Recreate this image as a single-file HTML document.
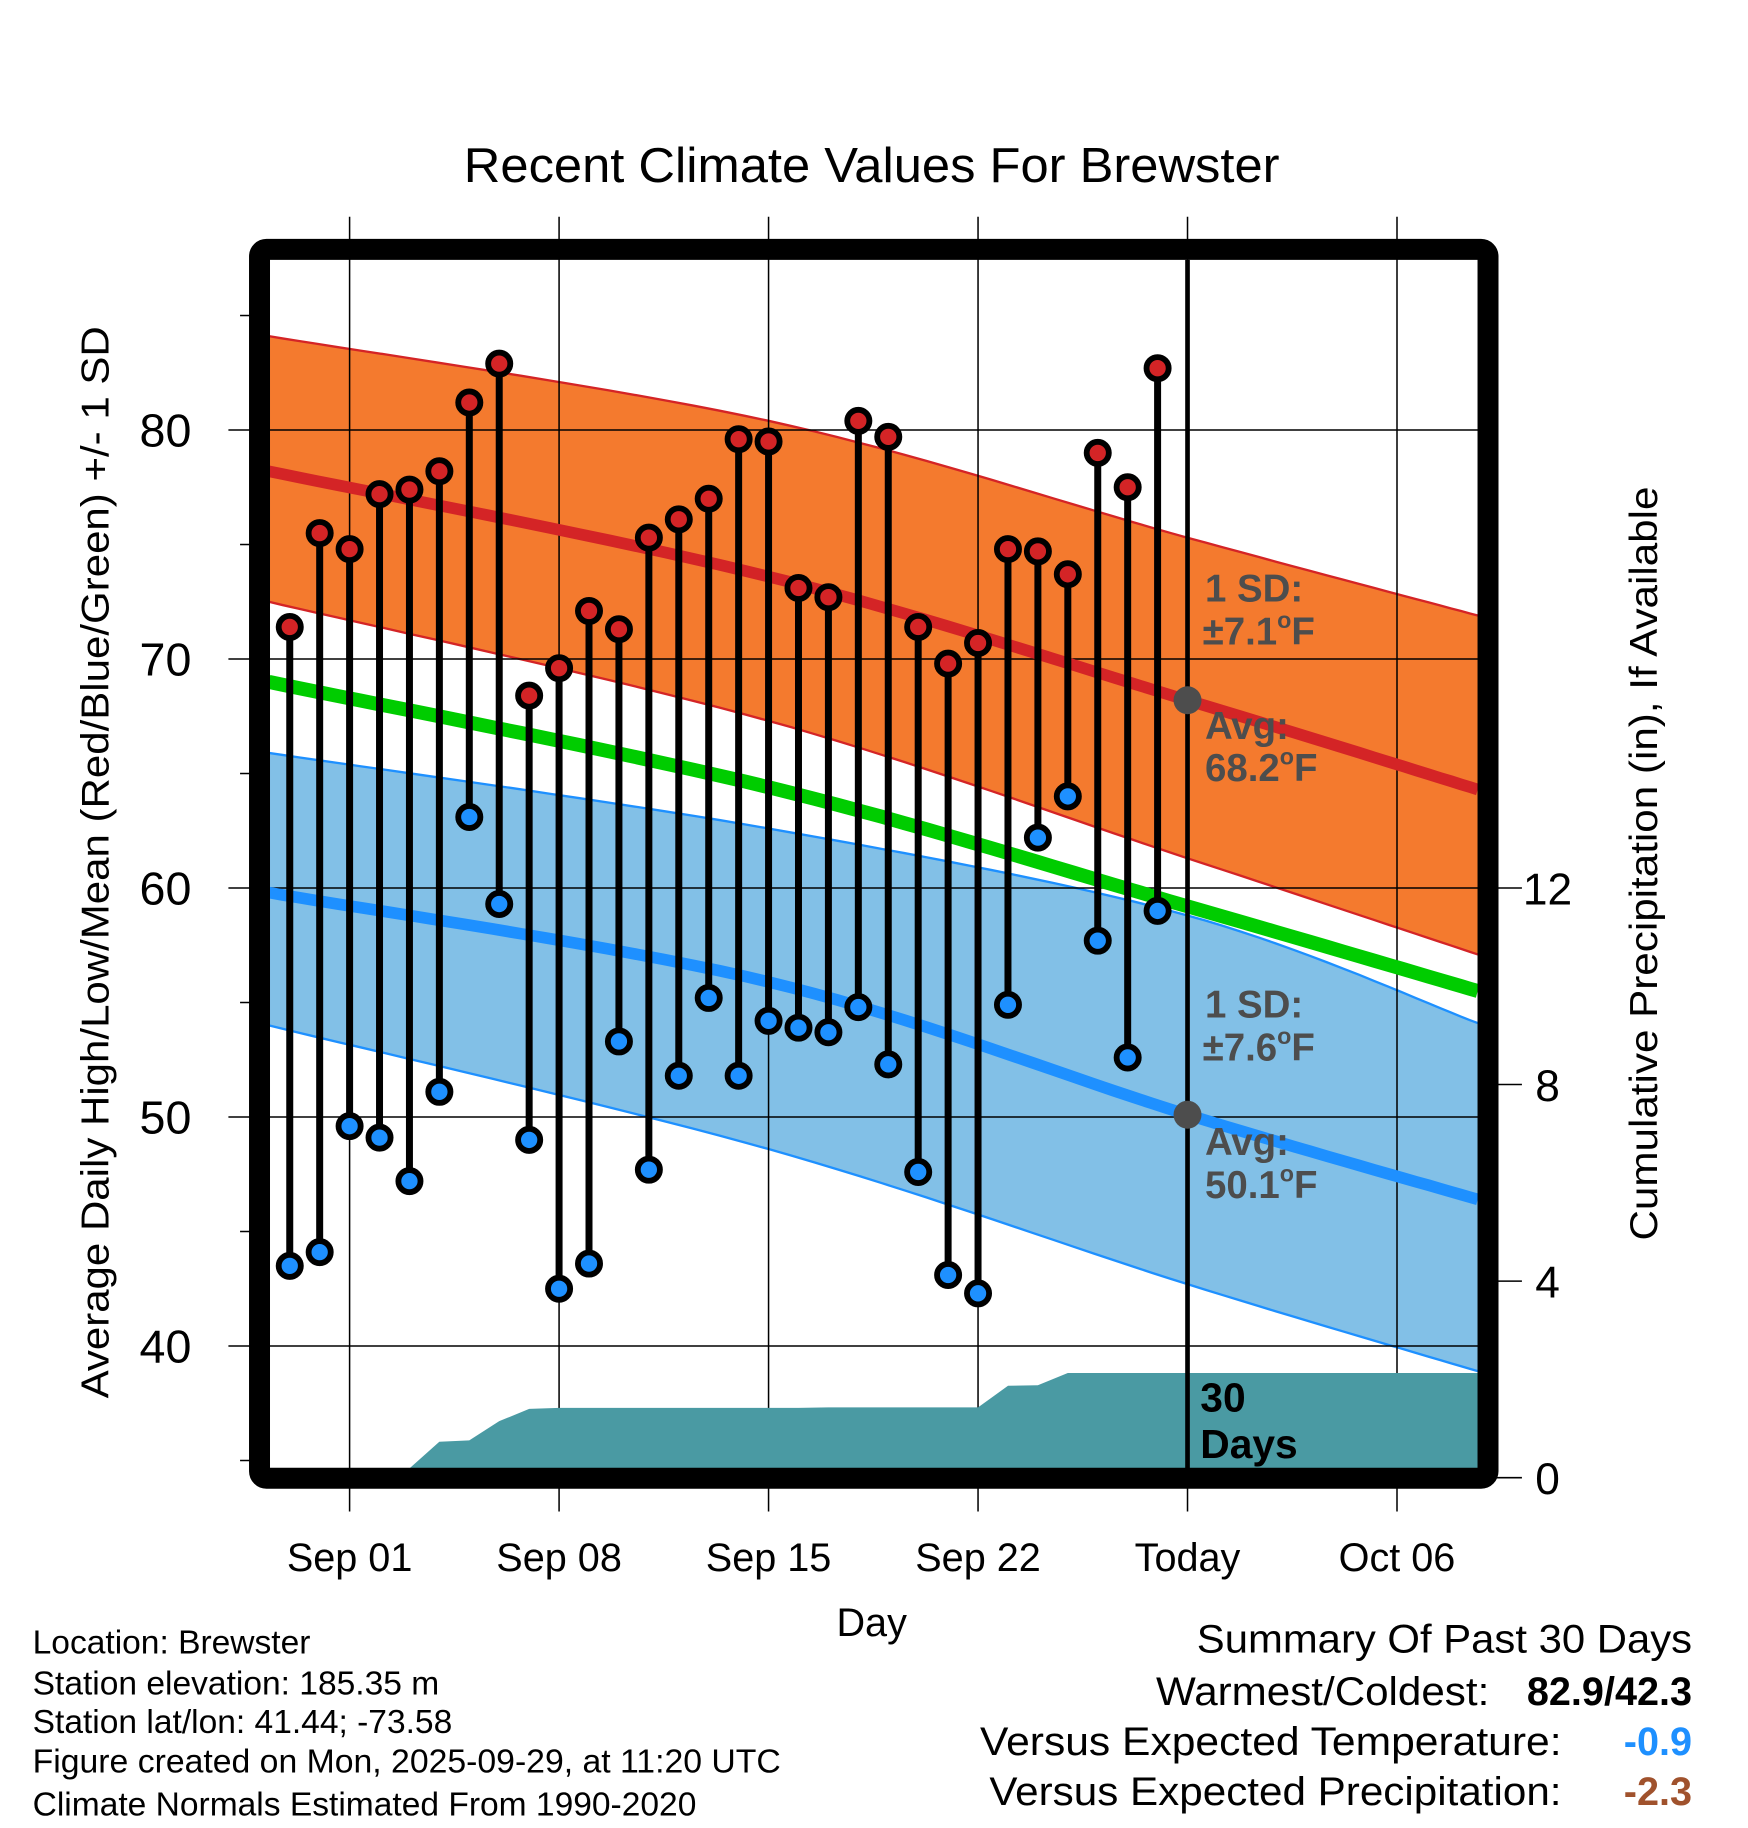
<!DOCTYPE html>
<html><head><meta charset="utf-8"><style>
html,body{margin:0;padding:0;background:#fff;}
svg{display:block;}
text{font-family:"Liberation Sans",sans-serif;}
</style></head><body>
<svg id="chart" width="1748" height="1828" viewBox="0 0 1500 1568.6" preserveAspectRatio="none" xmlns="http://www.w3.org/2000/svg">
<g id="bands"></g>
<g id="grid"></g>
<g id="precip"></g>
<g id="series"></g>
<g id="frame"></g>
<g id="labels">
<text x="748" y="156" font-size="42" text-anchor="middle" textLength="700" lengthAdjust="spacingAndGlyphs">Recent Climate Values For Brewster</text>
<text transform="translate(93,740) rotate(-90)" font-size="33" text-anchor="middle" textLength="920" lengthAdjust="spacingAndGlyphs">Average Daily High/Low/Mean (Red/Blue/Green) +/- 1 SD</text>
<text transform="translate(1422,741) rotate(-90)" font-size="33" text-anchor="middle" textLength="647" lengthAdjust="spacingAndGlyphs">Cumulative Precipitation (in), If Available</text>
<text x="748" y="1404" font-size="34" text-anchor="middle">Day</text>
<g fill="#4d4d4d" font-weight="bold" font-size="33">
<text x="1034" y="516">1 SD:</text>
<text x="1032" y="553">±7.1<tspan font-size="20" dy="-14">o</tspan><tspan dy="14">F</tspan></text>
<text x="1034" y="634">Avg:</text>
<text x="1034" y="670">68.2<tspan font-size="20" dy="-14">o</tspan><tspan dy="14">F</tspan></text>
</g>
<g fill="#4d4d4d" font-weight="bold" font-size="33">
<text x="1034" y="873">1 SD:</text>
<text x="1032" y="910">±7.6<tspan font-size="20" dy="-14">o</tspan><tspan dy="14">F</tspan></text>
<text x="1034" y="991">Avg:</text>
<text x="1034" y="1028">50.1<tspan font-size="20" dy="-14">o</tspan><tspan dy="14">F</tspan></text>
</g>
<text x="1030" y="1211" font-size="35" font-weight="bold">30</text>
<text x="1030" y="1251" font-size="35" font-weight="bold">Days</text>
<g font-size="28.8">
<text x="28" y="1419">Location: Brewster</text>
<text x="28" y="1454">Station elevation: 185.35 m</text>
<text x="28" y="1487">Station lat/lon: 41.44; -73.58</text>
<text x="28" y="1521" textLength="642" lengthAdjust="spacingAndGlyphs">Figure created on Mon, 2025-09-29, at 11:20 UTC</text>
<text x="28" y="1558">Climate Normals Estimated From 1990-2020</text>
</g>
<g font-size="34">
<text x="1452" y="1418" text-anchor="end" textLength="425" lengthAdjust="spacingAndGlyphs">Summary Of Past 30 Days</text>
<text x="1278" y="1463" text-anchor="end" textLength="286" lengthAdjust="spacingAndGlyphs">Warmest/Coldest:</text>
<text x="1452" y="1463" text-anchor="end" font-weight="bold">82.9/42.3</text>
<text x="1340" y="1506" text-anchor="end" textLength="499" lengthAdjust="spacingAndGlyphs">Versus Expected Temperature:</text>
<text x="1452" y="1506" text-anchor="end" font-weight="bold" fill="#1e90ff">-0.9</text>
<text x="1340" y="1549" text-anchor="end" textLength="491" lengthAdjust="spacingAndGlyphs">Versus Expected Precipitation:</text>
<text x="1452" y="1549" text-anchor="end" font-weight="bold" fill="#a0522d">-2.3</text>
</g>
</g>
</svg>
<script>
// ---- data ----
const dayIdx = [-2,-1,0,1,2,3,4,5,6,7,8,9,10,11,12,13,14,15,16,17,18,19,20,21,22,23,24,25,26,27];
const highs = [71.4,75.5,74.8,77.2,77.4,78.2,81.2,82.9,68.4,69.6,72.1,71.3,75.3,76.1,77.0,79.6,79.5,73.1,72.7,80.4,79.7,71.4,69.8,70.7,74.8,74.7,73.7,79.0,77.5,82.7];
const lows = [43.5,44.1,49.6,49.1,47.2,51.1,63.1,59.3,49.0,42.5,43.6,53.3,47.7,51.8,55.2,51.8,54.2,53.9,53.7,54.8,52.3,47.6,43.1,42.3,54.9,62.2,64.0,57.7,52.6,59.0];
const precip = [0,0,0,0,0,0.73,0.76,1.15,1.40,1.42,1.42,1.42,1.42,1.42,1.42,1.42,1.42,1.42,1.43,1.43,1.43,1.43,1.43,1.43,1.87,1.88,2.13,2.13,2.13,2.13];
const normDays = [-2.7,14,28,37.7];
const normHighUpper = [84.1,80.4,75.3,71.9];
const normHigh = [78.2,73.6,68.2,64.3];
const normHighLower = [72.5,67.3,61.3,57.1];
const normMean = [69.0,64.4,59.2,55.5];
const normLowUpper = [65.9,62.6,58.8,54.1];
const normLow = [59.8,55.9,50.1,46.4];
const normLowLower = [54.0,48.6,42.7,38.9];
const xTickDays = [0,7,14,21,28,35];
const xTickLabels = ["Sep 01","Sep 08","Sep 15","Sep 22","Today","Oct 06"];
const yTicks = [40,50,60,70,80];
const yMinorTicks = [35,45,55,65,75,85];
const y2Ticks = [0,4,8,12];

// ---- axes ----
const X0=231.7, X1=1268.4, Y0=223, Y1=1260;
function xs(d){return 300 + d*25.68;}
function ys(t){return 369 + (80-t)*19.65;}
function yp(p){return 1268 - p*42.17;}
const NS="http://www.w3.org/2000/svg";
function mk(tag,parent,attrs){const e=document.createElementNS(NS,tag);for(const k in attrs)e.setAttribute(k,attrs[k]);document.getElementById(parent).appendChild(e);return e;}
function pts(days,vals,f){return days.map((d,i)=>xs(d).toFixed(1)+","+f(vals[i]).toFixed(1));}
// smooth curve (Catmull-Rom) sampled points through the normal values
function smooth(days,vals){
  const P=days.map((d,i)=>[xs(d),ys(vals[i])]);
  const out=[];
  for(let i=0;i<P.length-1;i++){
    const p0=P[Math.max(0,i-1)],p1=P[i],p2=P[i+1],p3=P[Math.min(P.length-1,i+2)];
    for(let s=0;s<20;s++){
      const t=s/20,t2=t*t,t3=t2*t;
      const f=(a,b,c,d)=>0.5*((2*b)+(-a+c)*t+(2*a-5*b+4*c-d)*t2+(-a+3*b-3*c+d)*t3);
      out.push(f(p0[0],p1[0],p2[0],p3[0]).toFixed(1)+','+f(p0[1],p1[1],p2[1],p3[1]).toFixed(1));
    }
  }
  const L=P[P.length-1];out.push(L[0].toFixed(1)+','+L[1].toFixed(1));
  return out;
}

// bands
let e;
e=mk('polygon','bands',{points:smooth(normDays,normHighUpper).concat(smooth(normDays,normHighLower).reverse()).join(' '),fill:'#f47a2e'});


e=mk('polygon','bands',{points:smooth(normDays,normLowUpper).concat(smooth(normDays,normLowLower).reverse()).join(' '),fill:'#82c0e7'});


[[normHighUpper,'#d42426',2,'high-upper-line'],[normHighLower,'#d42426',2,'high-lower-line'],[normLowUpper,'#1e90ff',2,'low-upper-line'],[normLowLower,'#1e90ff',2,'low-lower-line']].forEach(a=>{
  const l=mk('polyline','bands',{points:smooth(normDays,a[0]).join(' '),fill:'none',stroke:a[1],'stroke-width':a[2]});
  
  
});

// grid
xTickDays.forEach((d,i)=>{
  const g=mk('line','grid',{x1:xs(d),x2:xs(d),y1:186,y2:1297,stroke:'#000','stroke-width':1.3});
  
  
  const t=mk('text','grid',{x:xs(d),y:1348,'font-size':34,'text-anchor':'middle'});
  t.textContent=xTickLabels[i];
  
  
});
yTicks.forEach(v=>{
  const g=mk('line','grid',{x1:196,x2:X1,y1:ys(v),y2:ys(v),stroke:'#000','stroke-width':1.3});
  
  
  const t=mk('text','grid',{x:142,y:ys(v)+14,'font-size':40,'text-anchor':'middle'});
  t.textContent=v;
  
  
});
yMinorTicks.forEach(v=>{
  const g=mk('line','grid',{x1:206,x2:216,y1:ys(v),y2:ys(v),stroke:'#000','stroke-width':1.3});
  
  
});
y2Ticks.forEach(v=>{
  const g=mk('line','grid',{x1:1280,x2:1306,y1:yp(v),y2:yp(v),stroke:'#000','stroke-width':1.3});
  
  
  const t=mk('text','grid',{x:1328,y:yp(v)+14,'font-size':38,'text-anchor':'middle'});
  t.textContent=v;
  
  
});

// precipitation area
let pp=[xs(dayIdx[0])+','+Y1];
dayIdx.forEach((d,i)=>{pp.push(xs(d).toFixed(1)+','+Math.min(Y1,yp(precip[i])).toFixed(1));});
pp.push(X1+','+Math.min(Y1,yp(precip[precip.length-1])).toFixed(1));
pp.push(X1+','+Y1);
e=mk('polygon','precip',{points:pp.join(' '),fill:'#4a9aa3'});



// normal lines
[[normHigh,'#d42426',10,'avg-high-line'],[normMean,'#00cc00',12,'avg-mean-line'],[normLow,'#1e90ff',10,'avg-low-line']].forEach(a=>{
  const l=mk('polyline','series',{points:smooth(normDays,a[0]).join(' '),fill:'none',stroke:a[1],'stroke-width':a[2]});
  
  
});
// today line
e=mk('line','series',{x1:xs(28),x2:xs(28),y1:Y0,y2:Y1,stroke:'#000','stroke-width':4});


e=mk('circle','series',{cx:xs(28),cy:ys(normHigh[2]),r:12,fill:'#4d4d4d'});


e=mk('circle','series',{cx:xs(28),cy:ys(normLow[2]),r:12,fill:'#4d4d4d'});



// daily stems
dayIdx.forEach((d,i)=>{
  const s=mk('line','series',{x1:xs(d),x2:xs(d),y1:ys(highs[i]),y2:ys(lows[i]),stroke:'#000','stroke-width':6});
  
  
  const h=mk('circle','series',{cx:xs(d),cy:ys(highs[i]),r:9.5,fill:'#d42426',stroke:'#000','stroke-width':5});
  
  
  const l=mk('circle','series',{cx:xs(d),cy:ys(lows[i]),r:9.5,fill:'#1e90ff',stroke:'#000','stroke-width':5});
  
  
});

// frame
e=mk('rect','frame',{x:222.7,y:214,width:1054.2,height:1054.5,rx:6,fill:'none',stroke:'#000','stroke-width':18});


</script>
</body></html>
